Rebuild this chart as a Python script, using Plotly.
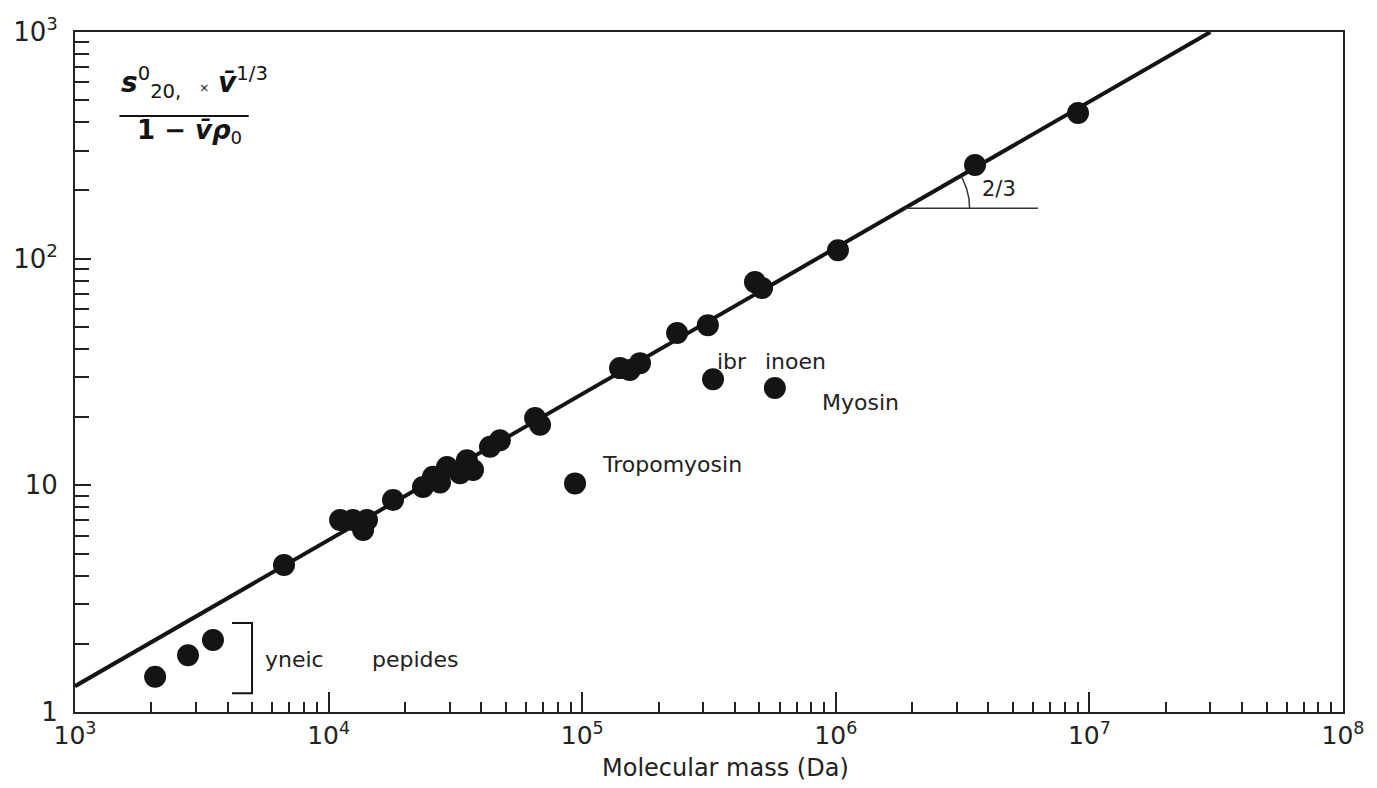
import numpy as np
import plotly.graph_objects as go

# ---------------- data ----------------
mass = [2070, 2790, 3500, 6670, 11100, 12470, 14170, 13680, 17950, 23560,
        25800, 27500, 29300, 33000, 35100, 37100, 43300, 47400, 65200, 68200,
        141000, 154000, 169000, 236700, 313000, 480000, 512000, 1020000,
        3540000, 9020000, 328000, 575000, 93700]
value = [1.43, 1.78, 2.08, 4.45, 7.03, 7.03, 7.03, 6.35, 8.61, 9.83,
         10.9, 10.3, 12.05, 11.3, 12.9, 11.7, 14.8, 15.8, 19.8, 18.5,
         32.9, 32.3, 34.6, 47.0, 50.9, 78.8, 74.2, 109,
         259, 439, 29.4, 26.9, 10.2]

fit_x = [1e3, 3e7]
fit_y = [1.3, 1000]

x_tickvals = [1e3, 1e4, 1e5, 1e6, 1e7, 1e8]
x_ticktext = ["10<sup>3</sup>", "10<sup>4</sup>", "10<sup>5</sup>",
              "10<sup>6</sup>", "10<sup>7</sup>", "10<sup>8</sup>"]
y_tickvals = [1, 10, 100, 1000]
y_ticktext = ["1", "10", "10<sup>2</sup>", "10<sup>3</sup>"]

# text labels: (text, mass, value)
label_text = ["yneic", "pepides", "ibr", "inoen", "Myosin", "Tropomyosin"]
label_mass = [5510, 14550, 334000, 516000, 867000, 117500]
label_value = [1.70, 1.70, 35.3, 35.3, 23.3, 12.4]

# bracket for the small peptides
bracket_x = [4160, 4990, 4990, 4160]
bracket_y = [2.47, 2.47, 1.21, 1.21]

# slope marker
slope_anchor_value = 167
slope_base_end = 6.27e6
slope_label = "2/3"
slope_label_pos = (3.71e6, 203)

INK = "#141414"
FONT = "DejaVu Sans"

# page has an 8px body margin; figure sized so the plot area lands at
# x 75..1343, y 32..712 of the 1377x788 window
W, H = 1361, 780
ML, MR, MT, MB = 67, 26, 24, 76
px_dec_x = (W - ML - MR) / 5.0
px_dec_y = (H - MT - MB) / 3.0

fig = go.Figure()

# fit line
fig.add_trace(go.Scatter(x=fit_x, y=fit_y, mode="lines",
                         line=dict(color=INK, width=4), hoverinfo="skip",
                         showlegend=False))

# data points
fig.add_trace(go.Scatter(x=mass, y=value, mode="markers",
                         marker=dict(color=INK, size=22, line=dict(width=0)),
                         showlegend=False))

# bracket
fig.add_trace(go.Scatter(x=bracket_x, y=bracket_y, mode="lines",
                         line=dict(color=INK, width=2), hoverinfo="skip",
                         showlegend=False))

# slope marker: horizontal base line + arc
lfx, lfy = np.log10(fit_x), np.log10(fit_y)
slope = (lfy[1] - lfy[0]) / (lfx[1] - lfx[0])
ay = np.log10(slope_anchor_value)
ax = lfx[0] + (ay - lfy[0]) / slope
fig.add_trace(go.Scatter(x=[10 ** ax, slope_base_end],
                         y=[slope_anchor_value, slope_anchor_value],
                         mode="lines", line=dict(color="#333", width=1.5),
                         hoverinfo="skip", showlegend=False))
ang = np.arctan(slope * px_dec_y / px_dec_x)
th = np.linspace(0, ang, 30)
r = 65
arc_x = 10 ** (ax + r * np.cos(th) / px_dec_x)
arc_y = 10 ** (ay + r * np.sin(th) / px_dec_y)
fig.add_trace(go.Scatter(x=arc_x, y=arc_y, mode="lines",
                         line=dict(color="#333", width=1.5),
                         hoverinfo="skip", showlegend=False))

annotations = []
for t, m, v in zip(label_text, label_mass, label_value):
    annotations.append(dict(x=np.log10(m), y=np.log10(v), xref="x", yref="y",
                            text=t, showarrow=False, xanchor="left",
                            yanchor="middle",
                            font=dict(family=FONT, size=22, color="#222")))
annotations.append(dict(x=np.log10(slope_label_pos[0]),
                        y=np.log10(slope_label_pos[1]), xref="x", yref="y",
                        text=slope_label, showarrow=False, xanchor="left",
                        yanchor="middle",
                        font=dict(family=FONT, size=21, color="#222")))

# y-axis quantity as a fraction
annotations.append(dict(
    x=0.035, y=0.925, xref="paper", yref="paper", xanchor="left",
    yanchor="middle", showarrow=False,
    text="<b><i>s</i></b><sup>0</sup><sub>20,</sub>  "
         "<span style='font-size:12px'>×</span> "
         "<b><i>v̄</i></b><sup>1/3</sup>",
    font=dict(family=FONT, size=28, color=INK)))
annotations.append(dict(
    x=0.047, y=0.853, xref="paper", yref="paper", xanchor="left",
    yanchor="middle", showarrow=False,
    text="<b>1 − <i>v̄ρ</i></b><sub>0</sub>",
    font=dict(family=FONT, size=26, color=INK)))

# x-axis title as annotation (positioned like the reference)
annotations.append(dict(
    x=0.513, y=-0.0824, xref="paper", yref="paper", xanchor="center",
    yanchor="middle", showarrow=False, text="Molecular mass (Da)",
    font=dict(family=FONT, size=24, color="#222")))

shapes = [dict(type="line", xref="paper", yref="paper",
               x0=0.035, x1=0.137, y0=0.8765, y1=0.8765,
               line=dict(color=INK, width=2))]

axis_common = dict(showgrid=False, zeroline=False, showline=True, mirror=True,
                   linecolor="#222", linewidth=2, ticks="inside",
                   tickcolor="#222", tickwidth=2, automargin=False)

fig.update_layout(
    width=W, height=H,
    margin=dict(l=ML, r=MR, t=MT, b=MB, autoexpand=False),
    paper_bgcolor="white", plot_bgcolor="white",
    xaxis=dict(type="log", range=[3, 8], tickvals=x_tickvals,
               ticktext=x_ticktext, ticklen=20, ticklabelstandoff=0,
               tickfont=dict(family=FONT, size=25, color="#222"),
               minor=dict(ticks="inside", ticklen=10, dtick="D1",
                          tickcolor="#222", tickwidth=2, showgrid=False),
               **axis_common),
    yaxis=dict(type="log", range=[0, 3], tickvals=y_tickvals,
               ticktext=y_ticktext, ticklen=16, ticklabelstandoff=10,
               tickfont=dict(family=FONT, size=26, color="#222"),
               minor=dict(ticks="inside", ticklen=14, dtick="D1",
                          tickcolor="#222", tickwidth=2, showgrid=False),
               **axis_common),
    annotations=annotations,
    shapes=shapes,
)

fig.write_html("out.html")
